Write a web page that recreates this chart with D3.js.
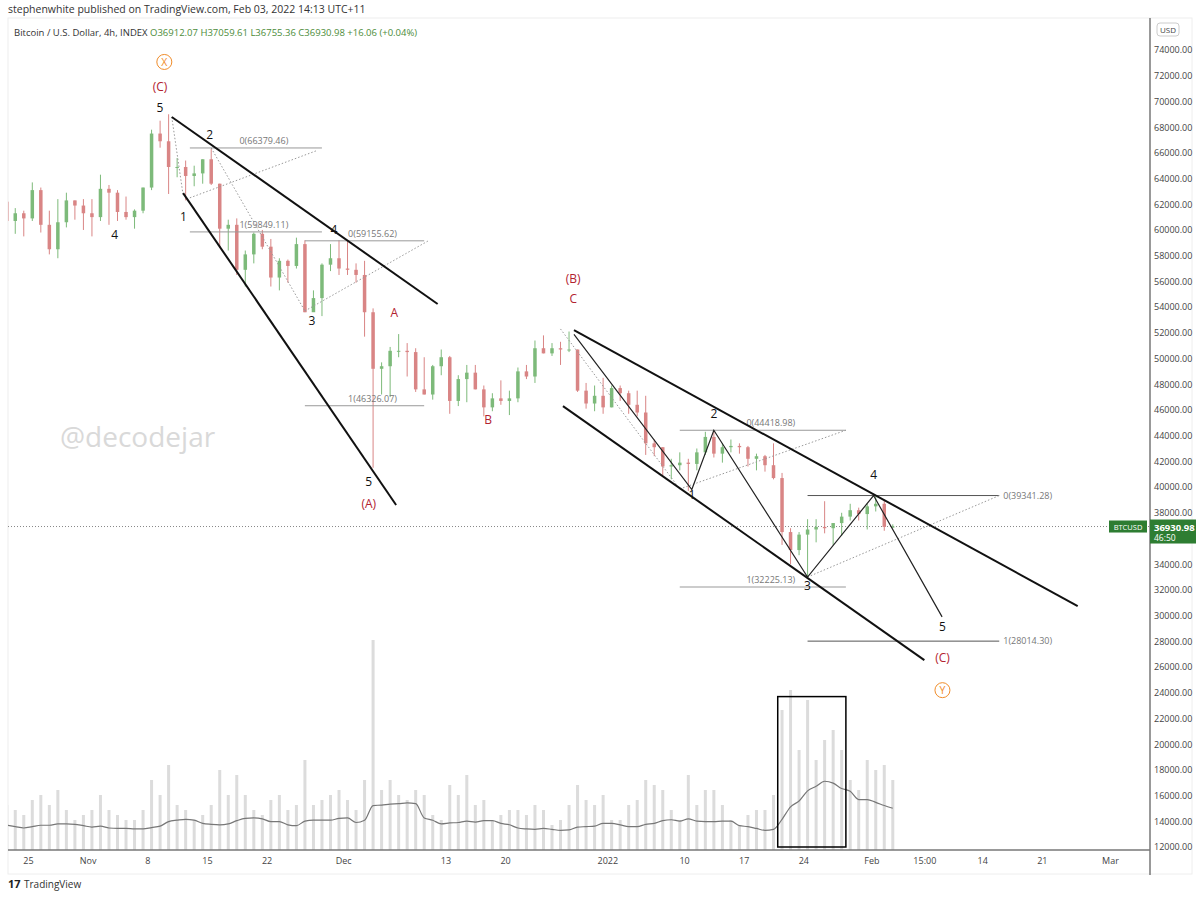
<!DOCTYPE html>
<html>
<head>
<meta charset="utf-8">
<script src="https://cdn.jsdelivr.net/npm/d3@7"></script>
<style>
  body { margin: 0; background: #fff; font-family: "Open Sans", "DejaVu Sans", sans-serif; }
  svg text { font-family: "Open Sans", "DejaVu Sans", sans-serif; }
</style>
</head>
<body>
<svg id="chart" width="1200" height="897"></svg>
<script>
// daily OHLC (thousands USD), starting Oct 22 2021
let startDay = '2021-10-22';
let opens = [62.2,60.7,61.3,60.9,63.1,60.4,58.5,60.6,62.3,61.9,
  61.3,61.0,63.2,62.9,61.4,61.0,61.5,63.3,67.5,66.9,64.9,64.9,64.2,64.4,65.5,63.6,60.1,60.4,56.9,58.1,59.7,58.7,56.3,57.6,57.2,58.9,53.6,54.7,57.3,57.8,
  57.0,56.9,56.5,53.6,49.2,49.4,50.6,50.6,50.5,47.6,47.2,49.4,50.1,46.7,48.4,48.9,47.6,46.2,46.9,46.7,46.9,49.0,48.6,50.8,50.4,50.8,50.7,50.7,47.5,46.5,47.1,
  46.2,47.7,47.3,46.4,45.8,43.4,43.1,41.6,41.7,41.9,41.8,42.7,43.9,42.6,43.1,43.2,43.1,42.2,42.4,41.7,40.7,36.5,35.1,36.3,36.7,36.9,36.8,37.2,37.7,38.2,37.9,
  38.5,38.7,36.9];
let highs = [63.7,61.7,61.5,63.7,63.3,61.5,62.4,62.9,62.3,62.4,
  62.4,64.3,63.5,63.1,62.6,61.6,63.3,67.8,68.5,69.0,65.6,65.4,65.0,65.5,66.3,63.6,60.8,60.9,58.4,59.8,60.0,59.3,57.8,57.7,59.4,59.2,55.3,57.4,58.9,59.2,
  59.1,57.4,57.6,53.9,49.7,50.9,51.9,51.2,50.8,50.1,49.5,50.7,50.2,48.7,49.5,49.5,47.9,47.3,48.3,47.5,49.3,49.5,51.4,51.8,51.2,51.3,52.1,50.7,48.1,47.9,48.5,
  47.9,47.9,47.5,47.5,47.1,43.7,43.1,42.2,42.7,42.2,43.0,44.3,44.4,43.4,43.7,43.4,43.2,42.6,42.5,43.4,41.1,36.8,36.5,37.5,37.5,38.9,37.2,38.0,38.7,38.4,38.7,
  39.3,39.0,37.1];
let lows = [60.0,59.7,59.5,60.7,59.8,58.1,57.8,60.2,60.8,60.0,
  59.5,60.7,60.4,60.7,60.8,60.1,61.3,63.1,66.4,62.8,64.1,62.3,63.4,63.6,63.5,58.6,58.4,56.5,55.6,57.4,58.5,55.6,55.3,55.9,57.0,53.6,53.7,53.3,56.8,56.5,
  56.5,55.9,51.7,41.5,47.2,47.0,50.1,48.6,47.4,47.2,46.8,48.7,45.7,46.3,46.6,47.6,45.5,45.9,46.4,45.6,46.6,48.4,48.1,50.4,50.2,49.5,50.5,47.4,46.1,45.9,45.7,
  46.2,46.7,45.7,45.5,42.5,42.4,40.9,40.6,41.3,39.7,41.3,42.5,42.3,41.9,42.7,42.6,41.6,41.3,41.2,40.6,35.5,34.0,34.7,33.0,35.7,36.4,35.5,36.2,37.4,37.4,36.7,
  38.1,36.6,36.8];
let closes = [60.7,61.3,60.9,63.1,60.4,58.5,60.6,62.3,61.9,61.3,
  61.0,63.2,62.9,61.4,61.0,61.5,63.3,67.5,66.9,64.9,64.9,64.2,64.4,65.5,63.6,60.1,60.4,56.9,58.1,59.7,58.7,56.3,57.6,57.2,58.9,53.6,54.7,57.3,57.8,57.0,
  56.9,56.5,53.6,49.2,49.4,50.6,50.6,50.5,47.6,47.2,49.4,50.1,46.7,48.4,48.9,47.6,46.2,46.9,46.7,46.9,49.0,48.6,50.8,50.4,50.8,50.7,50.7,47.5,46.5,47.1,46.2,
  47.7,47.3,46.4,45.8,43.4,43.1,41.6,41.7,41.9,41.8,42.7,43.9,42.6,43.1,43.2,43.1,42.2,42.4,41.7,40.7,36.5,35.1,36.3,36.7,36.9,36.8,37.2,37.7,38.2,37.9,38.5,
  38.7,36.9,36.93];
let volumes = [45,40,35,50,55,45,60,40,30,35,
  40,55,40,35,30,30,40,70,55,85,45,40,30,35,45,80,55,75,55,40,35,50,55,40,45,90,45,50,55,60,
  50,40,70,210,60,70,55,50,60,55,35,30,65,55,75,45,50,30,35,40,40,35,45,40,25,30,45,65,50,45,55,
  30,30,45,50,70,65,60,40,30,75,45,60,60,45,30,25,35,40,40,55,140,160,100,150,90,110,120,100,70,60,90,
  80,85,70];

let priceTicks = d3.range(12000, 74001, 2000).filter((p) => p !== 36000);
let dateTicks = [['2021-10-25','25'],['2021-11-01','Nov'],['2021-11-08','8'],['2021-11-15','15'],['2021-11-22','22'],
  ['2021-12-01','Dec'],['2021-12-13','13'],['2021-12-20','20'],['2022-01-01','2022'],['2022-01-10','10'],['2022-01-17','17'],
  ['2022-01-24','24'],['2022-02-01','Feb'],['2022-02-07T05:00','15:00'],['2022-02-14','14'],['2022-02-21','21'],['2022-03-01','Mar']];

// drawings: [date, price]
let wedgeLines = [
  [['2021-11-10T21:00',68790],['2021-12-12T02:00',54240]],
  [['2021-11-12T05:00',62870],['2021-12-07T05:00',38600]],
  [['2021-12-28T02:00',52200],['2022-02-25T05:00',30740]],
  [['2021-12-26T19:00',46300],['2022-02-07T05:00',26540]]
];
let waveC = [['2021-12-28T02:00',51870],['2022-01-10T22:00',39810],['2022-01-13T12:00',44420],['2022-01-24T12:00',33000],['2022-02-01T06:00',39340],['2022-02-09T07:00',29900]];
let dottedLines = [
  [['2021-11-10T21:00',68790],['2021-11-12T05:00',62700]],
  [['2021-11-13T00:00',62500],['2021-11-28T00:00',66200]],
  [['2021-11-15T12:00',66380],['2021-11-26T12:00',53700]],
  [['2021-11-26T12:00',53700],['2021-12-11T00:00',59160]],
  [['2021-12-26T12:00',52300],['2022-01-09T12:00',39850]],
  [['2022-01-09T12:00',39850],['2022-01-29T00:00',44420]],
  [['2022-01-24T12:00',33000],['2022-02-16T00:00',39340]]
];
// [from, to, price, label, label at right end]
let fibLevels = [
  ['2021-11-13T00:00','2021-11-28T12:00',66379.46,'0(66379.46)',false],
  ['2021-11-13T00:00','2021-11-28T12:00',59849.11,'1(59849.11)',false],
  ['2021-11-26T12:00','2021-12-10T12:00',59155.62,'0(59155.62)',false],
  ['2021-11-26T12:00','2021-12-10T12:00',46326.07,'1(46326.07)',false],
  ['2022-01-09T12:00','2022-01-29T00:00',44418.98,'0(44418.98)',false],
  ['2022-01-09T12:00','2022-01-29T00:00',32225.13,'1(32225.13)',false],
  ['2022-01-24T12:00','2022-02-16T00:00',39341.28,'0(39341.28)',true],
  ['2022-01-24T12:00','2022-02-16T00:00',28014.30,'1(28014.30)',true]
];
let waveLabels = [
  ['2021-11-09T12:00',70800,'(C)','red'],['2021-11-09T12:00',69150,'5','black'],['2021-11-15T08:00',67100,'2','black'],
  ['2021-11-12T06:00',60700,'1','black'],['2021-11-04T04:00',59300,'4','black'],['2021-11-29T22:00',59700,'4','black'],
  ['2021-11-27T08:00',52600,'3','black'],['2021-12-07T00:00',53200,'A','red'],['2021-12-04T00:00',40100,'5','black'],
  ['2021-12-04T00:00',38400,'(A)','red'],['2021-12-18T00:00',44900,'B','red'],['2021-12-28T00:00',55900,'(B)','red'],
  ['2021-12-28T00:00',54300,'C','red'],['2022-01-13T12:00',45400,'2','black'],['2022-01-10T22:00',39100,'1','black'],
  ['2022-01-24T12:00',32000,'3','black'],['2022-02-01T06:00',40600,'4','black'],['2022-02-09T08:00',28800,'5','black'],
  ['2022-02-09T08:00',26400,'(C)','red']
];
let circleLabels = [['2021-11-10T00:00',73070,'X'],['2022-02-09T08:00',24200,'Y']];
let volBox = [['2022-01-21T00:00',23700],['2022-01-29T00:00',12000]];
let lastPrice = 36930.98;

let svg = d3.select('#chart');
let padL = 8, padR = 1150, padT = 18, padB = 850;
let parse = (s) => new Date(s.length > 10 ? s : s + 'T00:00');
let x = d3.scaleTime().domain([parse('2021-10-25'), parse('2022-03-01')]).range([28, 1110]);
let y = d3.scaleLinear().domain([12000, 74000]).range([847, 50]);
let yv = d3.scaleLinear().domain([0, 230]).range([padB, 620]);

let days = opens.map((o, i) => {
  let d = parse(startDay); d.setDate(d.getDate() + i);
  return {date: d, o: opens[i] * 1000, h: highs[i] * 1000, l: lows[i] * 1000, c: closes[i] * 1000, v: volumes[i]};
});

svg.append('text').attr('x', 8).attr('y', 13).attr('font-size', 10.5).attr('fill', '#333')
  .text('stephenwhite published on TradingView.com, Feb 03, 2022 14:13 UTC+11');
svg.append('rect').attr('x', padL).attr('y', padT).attr('width', 1192 - padL).attr('height', 860 - padT + 14)
  .attr('fill', 'none').attr('stroke', '#eee');

let plot = svg.append('g');
plot.append('defs').append('clipPath').attr('id', 'clip')
  .append('rect').attr('x', padL).attr('y', padT).attr('width', padR - padL).attr('height', padB - padT);
let g = plot.append('g').attr('clip-path', 'url(#clip)');

g.append('text').attr('x', 60).attr('y', 447).attr('font-size', 28).attr('fill', '#d9d9d9').text('@decodejar');

// volume
let bw = 3;
g.selectAll('rect.vol').data(days).enter().append('rect').attr('class', 'vol')
  .attr('x', (d) => x(d.date) + 4.3 - bw / 2).attr('y', (d) => yv(d.v))
  .attr('width', bw).attr('height', (d) => padB - yv(d.v)).attr('fill', '#dcdcdc');
let ma = days.map((d, i) => {
  let s = days.slice(Math.max(0, i - 5), i + 1);
  return {date: d.date, v: d3.mean(s, (e) => e.v) * 0.55};
});
g.append('path').datum(ma).attr('fill', 'none').attr('stroke', '#777').attr('stroke-width', 1.2)
  .attr('d', d3.line().x((d) => x(d.date) + 4.3).y((d) => yv(d.v)).curve(d3.curveMonotoneX));
g.append('rect').attr('x', x(parse(volBox[0][0]))).attr('y', y(volBox[0][1]))
  .attr('width', x(parse(volBox[1][0])) - x(parse(volBox[0][0]))).attr('height', y(volBox[1][1]) - y(volBox[0][1]))
  .attr('fill', 'none').attr('stroke', '#000').attr('stroke-width', 1.5);

// last price line
g.append('line').attr('x1', padL).attr('x2', padR).attr('y1', y(lastPrice)).attr('y2', y(lastPrice))
  .attr('stroke', '#888').attr('stroke-dasharray', '1,2');

// candles
let cg = g.selectAll('g.candle').data(days).enter().append('g');
let col = (d) => d.c >= d.o ? '#7dba7a' : '#d98585';
cg.append('line').attr('x1', (d) => x(d.date) + 4.3).attr('x2', (d) => x(d.date) + 4.3)
  .attr('y1', (d) => y(d.h)).attr('y2', (d) => y(d.l)).attr('stroke', col);
cg.append('rect').attr('x', (d) => x(d.date) + 4.3 - 1.75).attr('width', 3.5)
  .attr('y', (d) => y(Math.max(d.o, d.c))).attr('height', (d) => Math.max(1, Math.abs(y(d.o) - y(d.c))))
  .attr('fill', col);

// drawings
let pt = (p) => [x(parse(p[0])), y(p[1])];
fibLevels.forEach((f) => {
  let dark = f[4];
  let x1 = x(parse(f[0])), x2 = x(parse(f[1]));
  g.append('line').attr('x1', x1).attr('x2', x2).attr('y1', y(f[2])).attr('y2', y(f[2]))
    .attr('stroke', dark ? '#555' : '#999');
  g.append('text').attr('x', f[4] ? x2 + 4 : (x1 + x2) / 2 + 8).attr('y', y(f[2]) - (f[4] ? -3 : 4))
    .attr('font-size', 9).attr('fill', '#777').attr('text-anchor', f[4] ? 'start' : 'middle').text(f[3]);
});
dottedLines.forEach((l) => {
  g.append('path').attr('d', d3.line()(l.map(pt))).attr('stroke', '#999').attr('stroke-dasharray', '1.5,2').attr('fill', 'none');
});
wedgeLines.forEach((l) => {
  g.append('path').attr('d', d3.line()(l.map(pt))).attr('stroke', '#111').attr('stroke-width', 2).attr('fill', 'none');
});
g.append('path').attr('d', d3.line()(waveC.map(pt))).attr('stroke', '#222').attr('stroke-width', 1.2).attr('fill', 'none');

waveLabels.forEach((w) => {
  g.append('text').attr('x', pt(w)[0]).attr('y', pt(w)[1]).attr('text-anchor', 'middle').attr('font-size', 12)
    .attr('fill', w[3] === 'red' ? '#b2222f' : '#111').text(w[2]);
});
circleLabels.forEach((c) => {
  let p = pt(c);
  g.append('circle').attr('cx', p[0]).attr('cy', p[1]).attr('r', 7.5).attr('fill', 'none').attr('stroke', '#f08c2a');
  g.append('text').attr('x', p[0]).attr('y', p[1] + 4).attr('text-anchor', 'middle').attr('font-size', 10.5)
    .attr('fill', '#f08c2a').text(c[2]);
});

// axes
svg.append('line').attr('x1', padR).attr('x2', padR).attr('y1', padT).attr('y2', 875).attr('stroke', '#777').attr('stroke-width', 1.5);
svg.append('line').attr('x1', padL).attr('x2', padR).attr('y1', padB).attr('y2', padB).attr('stroke', '#777').attr('stroke-width', 1.5);
let ya = svg.append('g').attr('transform', `translate(${padR},0)`)
  .call(d3.axisRight(y).tickValues(priceTicks).tickSize(0).tickPadding(4).tickFormat(d3.format('.2f')));
ya.select('.domain').remove();
ya.selectAll('text').attr('font-size', 9).attr('fill', '#444');
let xa = svg.append('g').attr('transform', `translate(0,${padB})`)
  .call(d3.axisBottom(x).tickValues(dateTicks.map((t) => parse(t[0]))).tickSize(0).tickPadding(8)
    .tickFormat((d, i) => dateTicks[i][1]));
xa.select('.domain').remove();
xa.selectAll('text').attr('font-size', 9).attr('fill', '#444');

// USD badge
svg.append('rect').attr('x', 1157).attr('y', 23).attr('width', 22).attr('height', 13).attr('rx', 3).attr('fill', '#fff').attr('stroke', '#ccc');
svg.append('text').attr('x', 1168).attr('y', 33).attr('text-anchor', 'middle').attr('font-size', 8).attr('fill', '#444').text('USD');

// price badges
svg.append('rect').attr('x', 1109).attr('y', y(lastPrice) - 6).attr('width', 38).attr('height', 12).attr('fill', '#2e7d32');
svg.append('text').attr('x', 1128).attr('y', y(lastPrice) + 3).attr('text-anchor', 'middle').attr('font-size', 7.5).attr('fill', '#fff').text('BTCUSD');
svg.append('rect').attr('x', padR).attr('y', y(lastPrice) - 7).attr('width', 46).attr('height', 24).attr('fill', '#2e7d32');
svg.append('text').attr('x', padR + 4).attr('y', y(lastPrice) + 4).attr('font-size', 9.5).attr('fill', '#fff').attr('font-weight', 'bold').text('36930.98');
svg.append('text').attr('x', padR + 4).attr('y', y(lastPrice) + 14).attr('font-size', 8.5).attr('fill', '#fff').text('46:50');

// legend
let lg = svg.append('text').attr('x', 14).attr('y', 36).attr('font-size', 9.5);
lg.append('tspan').attr('fill', '#333').text('Bitcoin / U.S. Dollar, 4h, INDEX  ');
lg.append('tspan').attr('fill', '#4c8c3a').text('O36912.07  H37059.61  L36755.36  C36930.98  +16.06 (+0.04%)');

// footer
svg.append('text').attr('x', 8).attr('y', 888).attr('font-size', 11).attr('font-weight', 'bold').attr('fill', '#222').text('17');
svg.append('text').attr('x', 24).attr('y', 888).attr('font-size', 10).attr('fill', '#333').text('TradingView');
</script>
</body>
</html>
